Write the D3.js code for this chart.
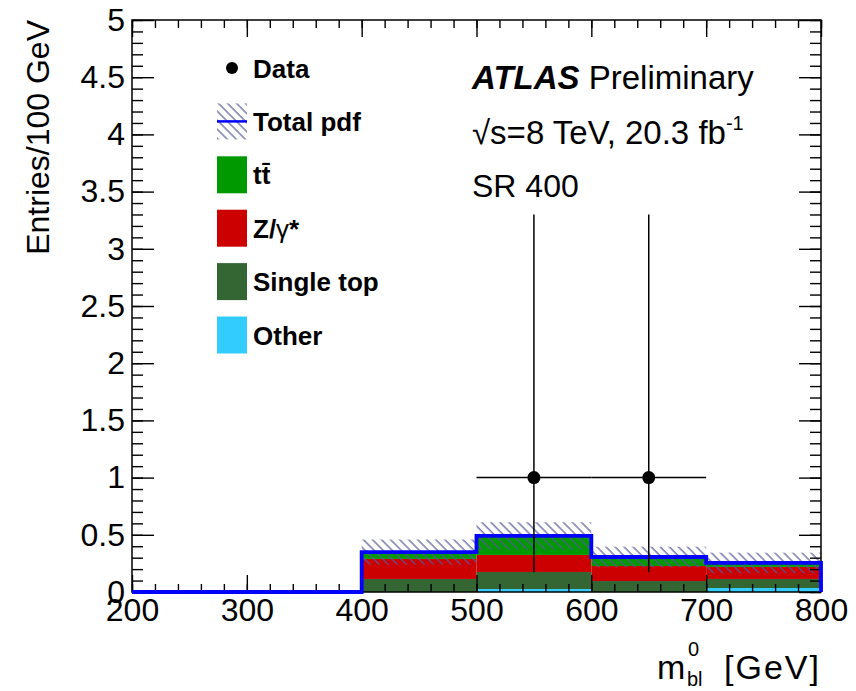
<!DOCTYPE html>
<html>
<head>
<meta charset="utf-8">
<script src="https://cdn.jsdelivr.net/npm/d3@7"></script>
<style>
  body { margin: 0; background: #fff; }
  svg { display: block; font-family: "Liberation Sans", Arial, Helvetica, sans-serif; }
</style>
</head>
<body>
<svg id="chart" width="856" height="691"></svg>
<script>
// m_bl^0 distribution in SR 400: stacked background fit, total pdf band and data
const binEdges   = [200, 300, 400, 500, 600, 700, 800];
const otherBkg   = [0, 0, 0.000, 0.026, 0.000, 0.035];
const singleTop  = [0, 0, 0.114, 0.149, 0.096, 0.079];
const zGamma     = [0, 0, 0.175, 0.149, 0.131, 0.105];
const ttbar      = [0, 0, 0.060, 0.166, 0.079, 0.035];
const totalErr   = [0, 0, 0.110, 0.120, 0.090, 0.090];

const dataX      = [550, 650];
const dataY      = [1, 1];
const dataErrLo  = [0.827, 0.827];
const dataErrHi  = [2.300, 2.300];
const dataHalfW  = [50, 50];

const yTicks     = [0, 0.5, 1, 1.5, 2, 2.5, 3, 3.5, 4, 4.5, 5];
const xTicks     = [200, 300, 400, 500, 600, 700, 800];

const seriesKeys   = ["other", "singleTop", "zGamma", "ttbar"];
const seriesColors = { other: "#33ccff", singleTop: "#336633", zGamma: "#cc0000", ttbar: "#009900" };
const legendLabels = ["Data", "Total pdf", "tt\u0304", "Z/\u03b3*", "Single top", "Other"];
const legendKinds  = ["data", "total", "ttbar", "zGamma", "singleTop", "other"];

const W = 856, H = 691;
const margin = { left: 132, top: 20, right: 35, bottom: 99 };
const pw = W - margin.left - margin.right;
const ph = H - margin.top - margin.bottom;

const svg = d3.select("#chart");
const defs = svg.append("defs");
defs.append("pattern")
    .attr("id", "hatch")
    .attr("patternUnits", "userSpaceOnUse")
    .attr("width", 6.4).attr("height", 6.4)
    .attr("patternTransform", "rotate(-45)")
  .append("line")
    .attr("x1", 1).attr("y1", 0).attr("x2", 1).attr("y2", 6.4)
    .attr("stroke", "#58589c").attr("stroke-width", 1.2);

const x = d3.scaleLinear().domain([200, 800]).range([0, pw]);
const y = d3.scaleLinear().domain([0, 5]).range([ph, 0]);

const g = svg.append("g").attr("transform", `translate(${margin.left},${margin.top})`);

// per-bin table for the stack
const bins = binEdges.slice(0, -1).map((lo, i) => ({
  lo, hi: binEdges[i + 1],
  other: otherBkg[i], singleTop: singleTop[i], zGamma: zGamma[i], ttbar: ttbar[i],
  err: totalErr[i]
}));
bins.forEach(b => { b.total = b.other + b.singleTop + b.zGamma + b.ttbar; });

const stacked = d3.stack().keys(seriesKeys)(bins);

g.append("g").selectAll("g")
  .data(stacked).join("g")
    .attr("fill", d => seriesColors[d.key])
  .selectAll("rect")
  .data(d => d.filter(s => s[1] - s[0] > 0))
  .join("rect")
    .attr("x", s => x(s.data.lo))
    .attr("width", s => x(s.data.hi) - x(s.data.lo))
    .attr("y", s => y(s[1]))
    .attr("height", s => y(s[0]) - y(s[1]));

// total pdf uncertainty band
g.append("g").selectAll("rect")
  .data(bins.filter(b => b.err > 0))
  .join("rect")
    .attr("x", b => x(b.lo))
    .attr("width", b => x(b.hi) - x(b.lo))
    .attr("y", b => y(b.total + b.err))
    .attr("height", b => y(b.total - b.err) - y(b.total + b.err))
    .attr("fill", "url(#hatch)");

// axes: ticks drawn inside the frame on all four sides
function styleAxis(sel) {
  sel.select(".domain").remove();
  sel.selectAll(".tick line").attr("stroke", "#000").attr("stroke-width", 1.4);
  sel.selectAll("text").attr("font-size", 32).attr("fill", "#000");
}
const xMinor = d3.range(200, 801, 20);
const yMinor = d3.range(0, 50.1, 1).map(v => v / 10);

g.append("g").attr("transform", `translate(0,${ph})`)
  .call(d3.axisBottom(x).tickValues(xMinor).tickSize(-8).tickFormat("")).call(styleAxis);
g.append("g").attr("transform", `translate(0,${ph})`)
  .call(d3.axisBottom(x).tickValues(xTicks).tickSize(-17).tickPadding(6).tickFormat(d3.format("d")))
  .call(styleAxis);
g.append("g")
  .call(d3.axisTop(x).tickValues(xMinor).tickSize(-8).tickFormat("")).call(styleAxis);
g.append("g")
  .call(d3.axisTop(x).tickValues(xTicks).tickSize(-17).tickFormat("")).call(styleAxis);

g.append("g")
  .call(d3.axisLeft(y).tickValues(yMinor).tickSize(-11).tickFormat("")).call(styleAxis);
g.append("g")
  .call(d3.axisLeft(y).tickValues(yTicks).tickSize(-22).tickPadding(7).tickFormat(d3.format("~g")))
  .call(styleAxis);
g.append("g").attr("transform", `translate(${pw},0)`)
  .call(d3.axisRight(y).tickValues(yMinor).tickSize(-11).tickFormat("")).call(styleAxis);
g.append("g").attr("transform", `translate(${pw},0)`)
  .call(d3.axisRight(y).tickValues(yTicks).tickSize(-22).tickFormat("")).call(styleAxis);

// frame
g.append("rect")
  .attr("width", pw).attr("height", ph)
  .attr("fill", "none").attr("stroke", "#000").attr("stroke-width", 1.5);

// total pdf step line
const stepPts = [];
bins.forEach(b => { stepPts.push([b.lo, b.total]); stepPts.push([b.hi, b.total]); });
stepPts.push([binEdges[binEdges.length - 1], 0]);
g.append("path")
  .attr("d", d3.line().x(p => x(p[0])).y(p => y(p[1]))(stepPts))
  .attr("fill", "none").attr("stroke", "#0000ff").attr("stroke-width", 3.8)
  .attr("stroke-linejoin", "miter");

// data points with Poisson error bars
const pts = dataX.map((v, i) => ({ x: v, y: dataY[i], lo: dataErrLo[i], hi: dataErrHi[i], hw: dataHalfW[i] }));
const dg = g.append("g").attr("stroke", "#000").attr("stroke-width", 1.5);
dg.selectAll("line.v").data(pts).join("line").attr("class", "v")
  .attr("x1", d => x(d.x)).attr("x2", d => x(d.x))
  .attr("y1", d => y(d.y - d.lo)).attr("y2", d => y(d.y + d.hi));
dg.selectAll("line.h").data(pts).join("line").attr("class", "h")
  .attr("x1", d => x(d.x - d.hw)).attr("x2", d => x(d.x + d.hw))
  .attr("y1", d => y(d.y)).attr("y2", d => y(d.y));
g.append("g").selectAll("circle").data(pts).join("circle")
  .attr("cx", d => x(d.x)).attr("cy", d => y(d.y)).attr("r", 6.5).attr("fill", "#000");

// axis titles
svg.append("text")
  .attr("transform", `translate(49,${margin.top}) rotate(-90)`)
  .attr("text-anchor", "end").attr("font-size", 32)
  .text("Entries/100 GeV");

const xt = svg.append("g").attr("font-size", 34);
xt.append("text").attr("x", 821).attr("y", 679).attr("text-anchor", "end")
  .attr("letter-spacing", 2).text("[GeV]");
xt.append("text").attr("x", 657).attr("y", 679).text("m");
xt.append("text").attr("x", 688).attr("y", 656).attr("font-size", 20).text("0");
xt.append("text").attr("x", 687).attr("y", 686).attr("font-size", 20).text("bl");

// legend
const lg = svg.append("g").attr("transform", "translate(217,68)");
const rowH = 53.4;
const rows = lg.selectAll("g").data(legendKinds).join("g")
  .attr("transform", (d, i) => `translate(0,${i * rowH})`);
rows.each(function (kind, i) {
  const r = d3.select(this);
  if (kind === "data") {
    r.append("circle").attr("cx", 15).attr("cy", 0).attr("r", 6).attr("fill", "#000");
  } else if (kind === "total") {
    r.append("rect").attr("x", 0).attr("y", -18).attr("width", 30).attr("height", 36)
      .attr("fill", "url(#hatch)");
    r.append("line").attr("x1", 0).attr("x2", 30).attr("y1", 0).attr("y2", 0)
      .attr("stroke", "#0000ff").attr("stroke-width", 2.5);
  } else {
    r.append("rect").attr("x", 0).attr("y", -18.5).attr("width", 30).attr("height", 37)
      .attr("fill", seriesColors[kind]);
  }
  const t = r.append("text").attr("x", 36).attr("y", 9.5)
    .attr("font-size", 26).attr("font-weight", "bold");
  if (kind === "zGamma") {
    t.append("tspan").text("Z/");
    t.append("tspan").attr("font-weight", "normal").text("\u03b3");
    t.append("tspan").text("*");
  } else {
    t.text(legendLabels[i]);
  }
});

// experiment labels
const lab = svg.append("g").attr("font-size", 33);
const t1 = lab.append("text").attr("x", 472).attr("y", 89);
t1.append("tspan").attr("font-weight", "bold").attr("font-style", "italic").text("ATLAS");
t1.append("tspan").text(" Preliminary");
const t2 = lab.append("text").attr("x", 472).attr("y", 144);
t2.append("tspan").text("\u221as=8 TeV, 20.3 fb");
t2.append("tspan").attr("font-size", 20).attr("dy", -14).text("-1");
lab.append("text").attr("x", 472).attr("y", 197).attr("font-size", 32).text("SR 400");
</script>
</body>
</html>
